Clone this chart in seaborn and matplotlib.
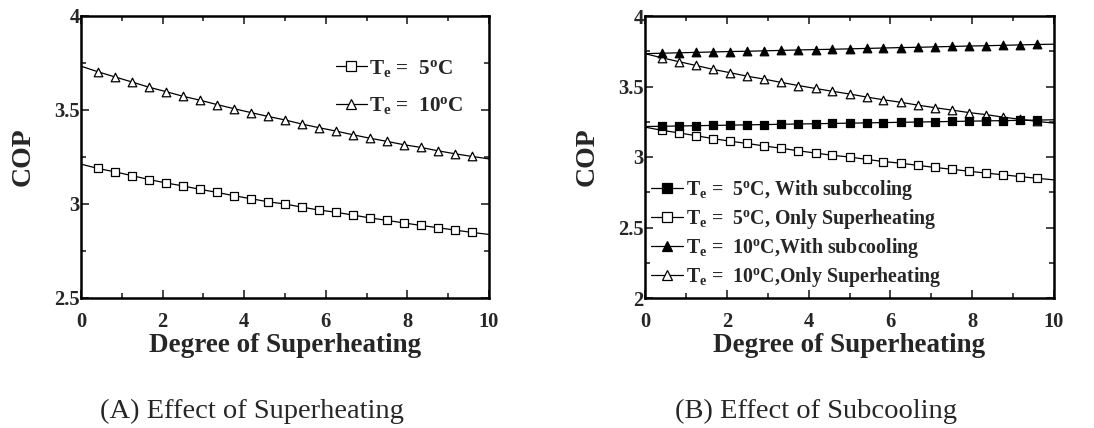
import numpy as np
import pandas as pd
import seaborn as sns
import matplotlib
matplotlib.use("Agg")
import matplotlib.pyplot as plt
from matplotlib.lines import Line2D
from matplotlib.ticker import MultipleLocator

# ---------------- data ----------------
superheat = [0.42, 0.83, 1.25, 1.67, 2.08, 2.50, 2.92, 3.33, 3.75, 4.17, 4.58, 5.00,
             5.42, 5.83, 6.25, 6.67, 7.08, 7.50, 7.92, 8.33, 8.75, 9.17, 9.58]
x_ends = [0.0, 10.0]

cop_5_sh = [3.189, 3.171, 3.151, 3.130, 3.112, 3.096, 3.078, 3.062, 3.044, 3.028, 3.012, 3.000,
            2.983, 2.968, 2.956, 2.941, 2.926, 2.913, 2.899, 2.886, 2.874, 2.861, 2.849]
cop_5_sh_ends = [3.212, 2.838]

cop_10_sh = [3.703, 3.676, 3.649, 3.621, 3.598, 3.573, 3.552, 3.529, 3.507, 3.486, 3.466, 3.447,
             3.425, 3.406, 3.388, 3.368, 3.350, 3.333, 3.315, 3.301, 3.283, 3.267, 3.253]
cop_10_sh_ends = [3.733, 3.240]

cop_5_sc = [3.218, 3.220, 3.222, 3.224, 3.226, 3.228, 3.230, 3.232, 3.234, 3.236, 3.238, 3.240,
            3.242, 3.244, 3.246, 3.248, 3.250, 3.252, 3.254, 3.256, 3.258, 3.260, 3.262]
cop_5_sc_ends = [3.216, 3.264]

cop_10_sc = [3.736, 3.739, 3.742, 3.745, 3.748, 3.750, 3.753, 3.756, 3.759, 3.762, 3.764, 3.767,
             3.770, 3.773, 3.776, 3.778, 3.781, 3.784, 3.787, 3.789, 3.792, 3.795, 3.798]
cop_10_sc_ends = [3.733, 3.800]

label_5 = r"$\mathbf{T_e}$ =  5$^\mathbf{o}$C"
label_10 = r"$\mathbf{T_e}$ =  10$^\mathbf{o}$C"
labels_b = [r"$\mathbf{T_e}$ =  5$^\mathbf{o}$C, With subccoling",
            r"$\mathbf{T_e}$ =  5$^\mathbf{o}$C, Only Superheating",
            r"$\mathbf{T_e}$ =  10$^\mathbf{o}$C,With subcooling",
            r"$\mathbf{T_e}$ =  10$^\mathbf{o}$C,Only Superheating"]
xlabel = "Degree of Superheating"
ylabel = "COP"
caption_a = "(A) Effect of Superheating"
caption_b = "(B) Effect of Subcooling"

# ---------------- style ----------------
sns.set_theme(style="ticks")
plt.rcParams["font.family"] = ["Liberation Serif", "DejaVu Serif"]
plt.rcParams["font.weight"] = "bold"
plt.rcParams["mathtext.fontset"] = "custom"
plt.rcParams["mathtext.rm"] = "Liberation Serif:bold"
plt.rcParams["mathtext.bf"] = "Liberation Serif:bold"
plt.rcParams["mathtext.it"] = "Liberation Serif:italic:bold"

fig = plt.figure(figsize=(10.94, 4.28), dpi=100)
axA = fig.add_axes([81 / 1094, 1 - 298 / 428, 408 / 1094, 282 / 428])
axB = fig.add_axes([645 / 1094, 1 - 298 / 428, 409 / 1094, 282 / 428])


def series_df(y, ends):
    xs = [x_ends[0]] + superheat + [x_ends[1]]
    ys = [ends[0]] + list(y) + [ends[1]]
    return pd.DataFrame({"x": xs, "y": ys})


def draw(ax, y, ends, marker, filled, z=2):
    df = series_df(y, ends)
    sns.lineplot(data=df, x="x", y="y", ax=ax, color="black", lw=0.9,
                 sort=False, estimator=None, zorder=z)
    pts = pd.DataFrame({"x": superheat, "y": y})
    sns.scatterplot(data=pts, x="x", y="y", ax=ax, marker=marker, s=38,
                    facecolor="black" if filled else "white", edgecolor="black",
                    linewidth=0.9, zorder=z + 0.5)


def handle(marker, filled):
    return Line2D([], [], color="black", lw=0.9, marker=marker, markersize=6.5,
                  markerfacecolor="black" if filled else "white",
                  markeredgecolor="black", markeredgewidth=0.9)


# Panel A
draw(axA, cop_5_sh, cop_5_sh_ends, "s", False)
draw(axA, cop_10_sh, cop_10_sh_ends, "^", False)
axA.set_ylim(2.5, 4)
axA.set_yticks([2.5, 3, 3.5, 4])
axA.set_yticklabels(["2.5", "3", "3.5", "4"])
legA = axA.legend([handle("s", False), handle("^", False)], [label_5, label_10],
                  loc="upper right", bbox_to_anchor=(0.985, 0.92), frameon=False,
                  fontsize=15.3, handlelength=1.45, handletextpad=0.12, labelspacing=0.78)

# Panel B
draw(axB, cop_10_sh, cop_10_sh_ends, "^", False, z=2)
draw(axB, cop_5_sh, cop_5_sh_ends, "s", False, z=2)
draw(axB, cop_10_sc, cop_10_sc_ends, "^", True, z=3)
draw(axB, cop_5_sc, cop_5_sc_ends, "s", True, z=3)
axB.set_ylim(2, 4)
axB.set_yticks([2, 2.5, 3, 3.5, 4])
axB.set_yticklabels(["2", "2.5", "3", "3.5", "4"])
legB = axB.legend([handle("s", True), handle("s", False), handle("^", True), handle("^", False)],
                  labels_b, loc="lower left", bbox_to_anchor=(-0.03, -0.03), frameon=False,
                  fontsize=14.3, handlelength=1.65, handletextpad=0.12, labelspacing=0.24)

for ax in (axA, axB):
    ax.set_xlim(0, 10)
    ax.set_xticks([0, 2, 4, 6, 8, 10])
    ax.set_xticklabels(["0", "2", "4", "6", "8", "10"])
    ax.xaxis.set_minor_locator(MultipleLocator(1))
    ax.yaxis.set_minor_locator(MultipleLocator(0.25))
    ax.tick_params(which="both", direction="in", top=True, right=True, width=1.2,
                   labelsize=14.8)
    ax.tick_params(axis="x", which="both", pad=10)
    ax.tick_params(axis="y", which="both", pad=1)
    ax.tick_params(which="major", length=6)
    ax.tick_params(which="minor", length=3.5)
    for lab in ax.get_xticklabels() + ax.get_yticklabels():
        lab.set_fontweight("bold")
    for sp in ax.spines.values():
        sp.set_linewidth(1.8)
        sp.set_color("black")
    ax.set_xlabel(xlabel, fontsize=19.5, fontweight="bold", labelpad=1)
    ax.set_ylabel(ylabel, fontsize=20, fontweight="bold", labelpad=13)

fig.text(252 / 1094, 1 - 411 / 428, caption_a, ha="center", va="center",
         fontsize=20.5, fontweight="normal")
fig.text(816 / 1094, 1 - 411 / 428, caption_b, ha="center", va="center",
         fontsize=20.5, fontweight="normal")

fig.savefig("out.png", dpi=100)
